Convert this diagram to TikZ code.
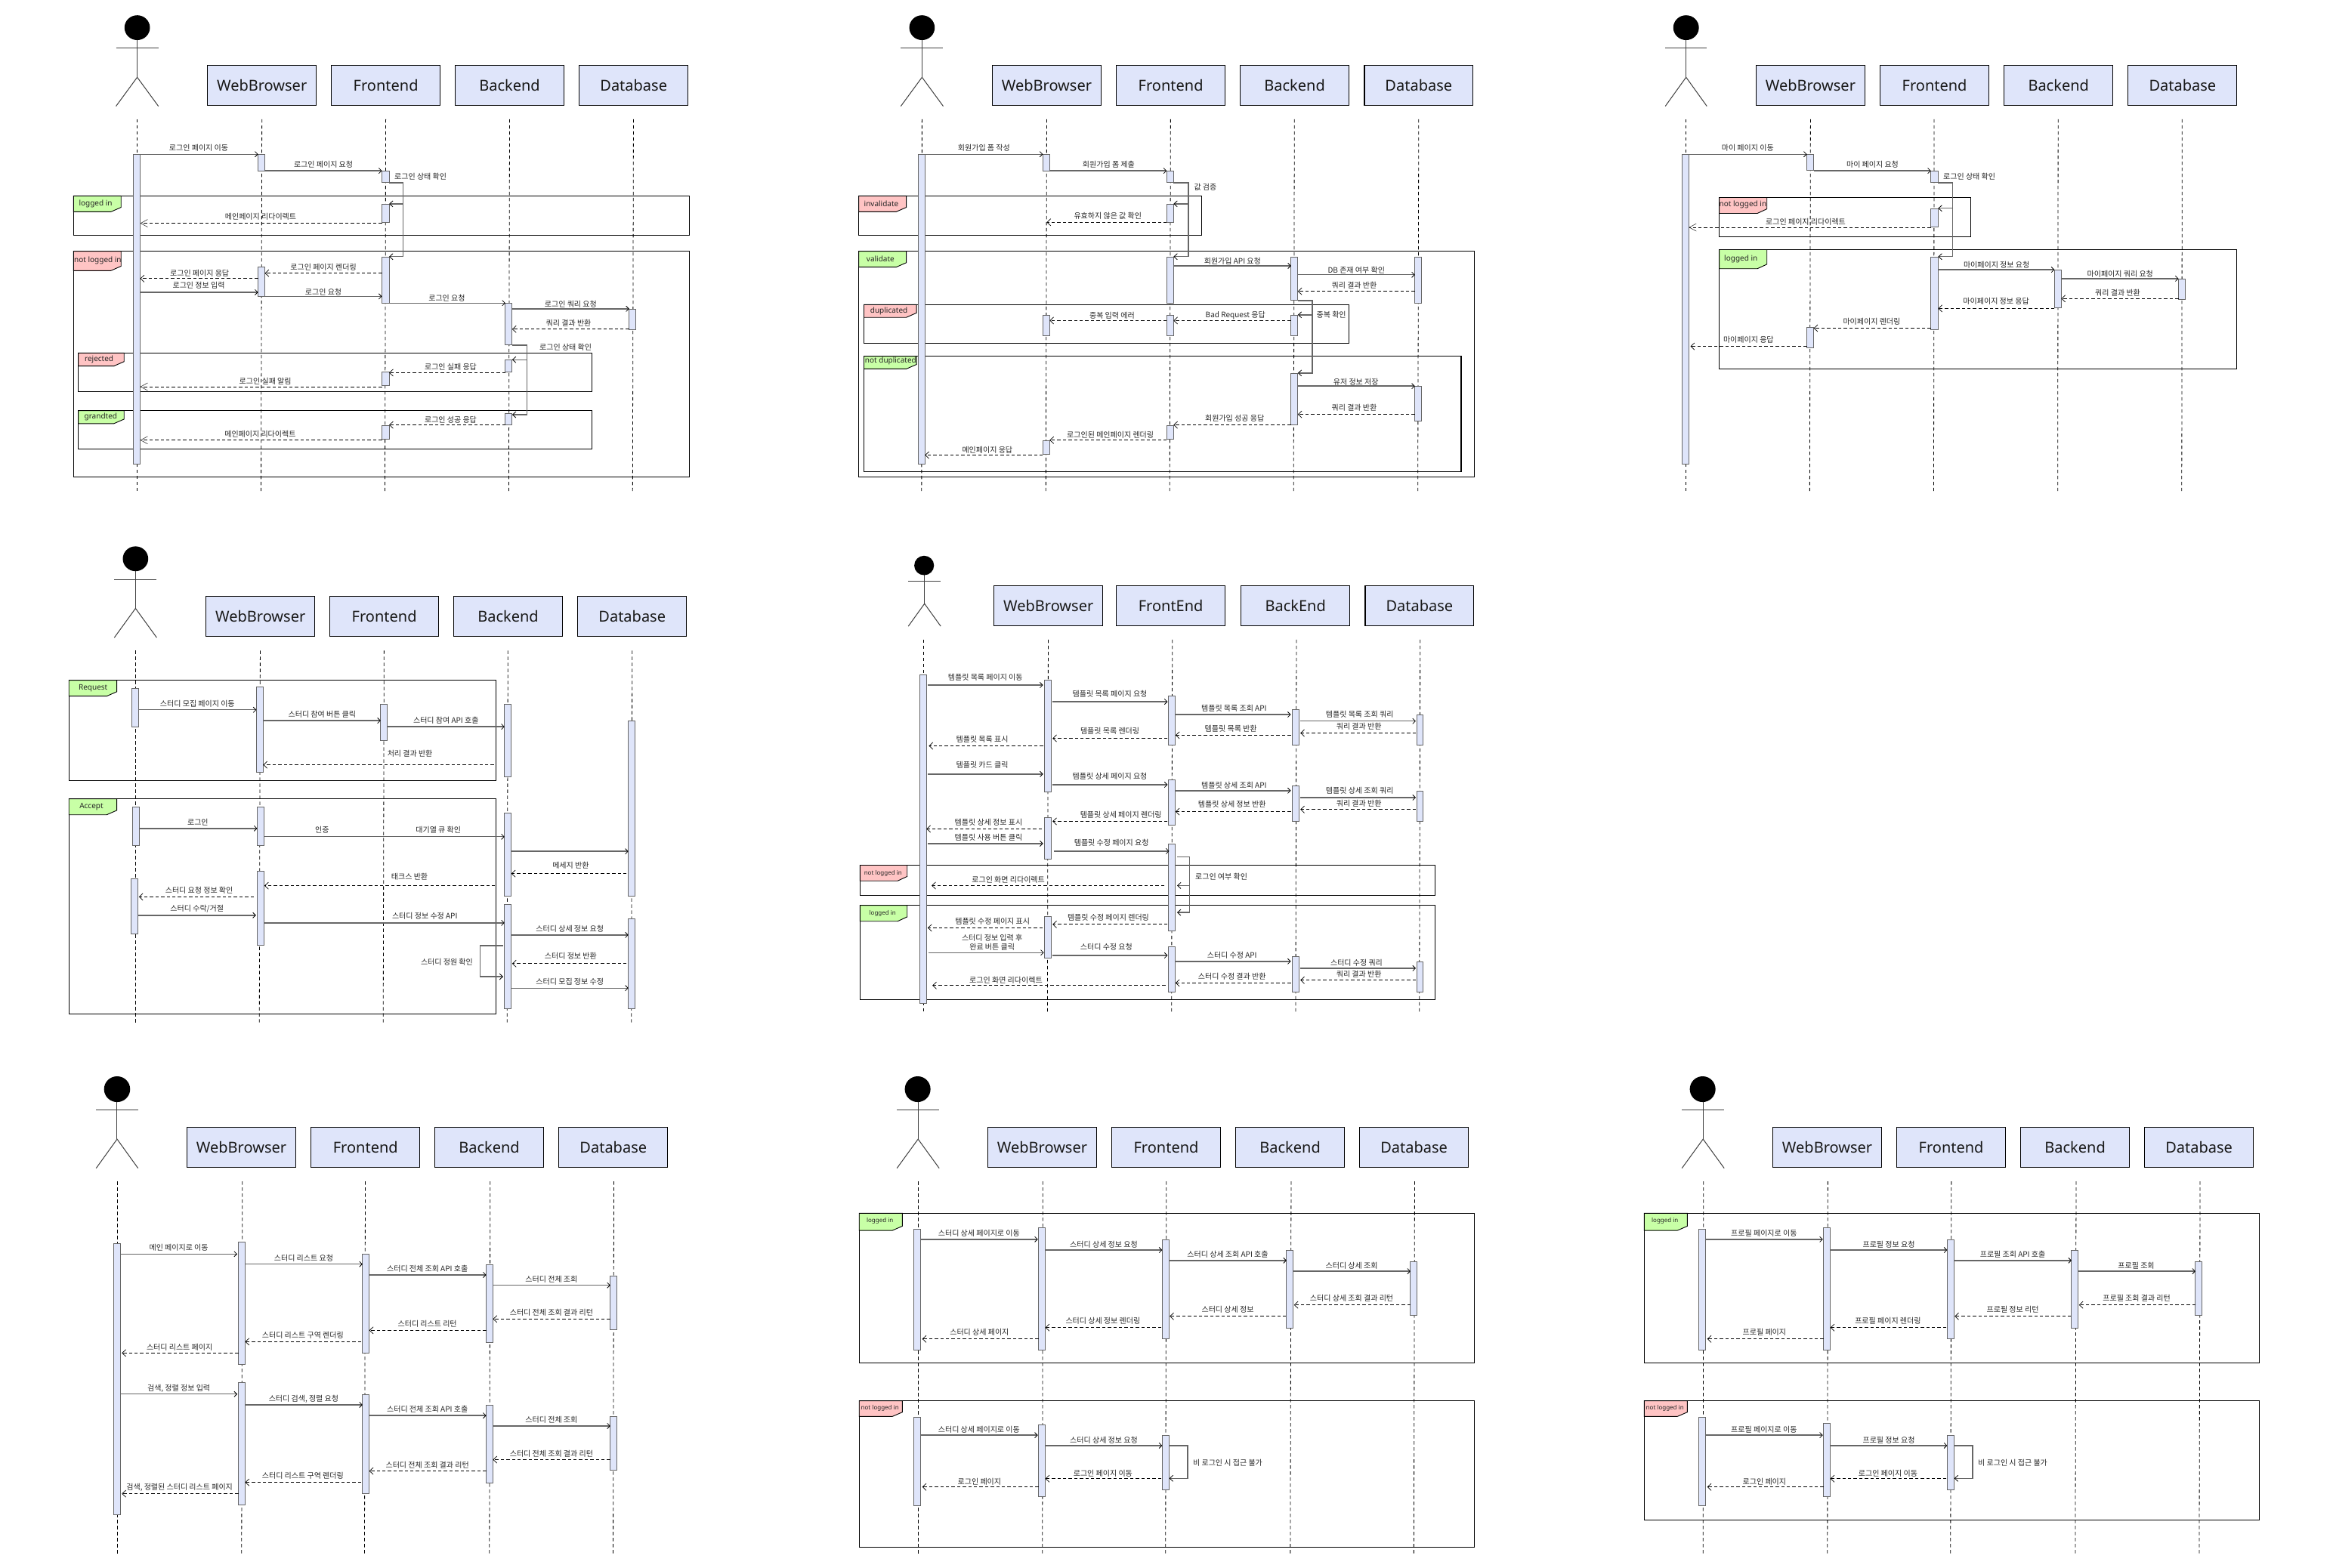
\documentclass[tikz,border=0pt]{standalone}
\usepackage{fontspec}
\setmainfont{Noto Sans}
\newfontfamily\krfont{Noto Sans CJK KR}
\usetikzlibrary{arrows.meta}
\definecolor{barfill}{HTML}{DFE5FA}
\definecolor{gtab}{HTML}{C8FFA6}
\definecolor{ptab}{HTML}{FFC4C4}
\definecolor{inkc}{HTML}{666666}
\tikzset{
 boxst/.style={draw=black,line width=0.55pt,fill=barfill},
 boxlbl/.style={font=\fontsize{10}{12}\selectfont,text=black!90,inner sep=0pt},
 lifest/.style={draw=black,line width=0.4pt,dash pattern=on 2.2pt off 1.8pt},
 barst/.style={draw=inkc,line width=0.45pt,fill=barfill},
 framest/.style={draw=black,line width=0.55pt},
 tabst/.style={draw=black,line width=0.45pt},
 actorst/.style={draw=black!75,line width=0.5pt},
 smsg/.style={draw=inkc,line width=0.7pt,-{Straight Barb[length=1.8pt,width=3.6pt,line width=0.4pt,black]}},
 dmsg/.style={draw=black,line width=0.45pt,dash pattern=on 2.2pt off 1.5pt,-{Straight Barb[length=2.4pt,width=4.6pt,line width=0.35pt,black]}},
 bmsg/.style={draw=black,line width=0.4pt,dash pattern=on 2.2pt off 1.5pt,-{Straight Barb[length=4.6pt,width=5pt,line width=0.3pt,black!80]}},
 lmsg/.style={draw=inkc,line width=0.7pt,-{Straight Barb[length=2.2pt,width=4pt,line width=0.4pt,black]}},
 msglbl/.style={font=\krfont\fontsize{5}{6.2}\selectfont,text=black!85,inner sep=0pt,align=center},
 frlbl/.style={font=\fontsize{5}{6}\selectfont,text=black!85,inner sep=0pt},
 frsmall/.style={font=\fontsize{4}{5}\selectfont,text=black!85,inner sep=0pt},
}
\newcount\qn
\newcommand\nextq{\global\advance\qn by 1 }
\newenvironment{zpanel}[4]{\begin{scope}[xshift=#1pt,yshift=-#2pt,x=#3pt,y=-#4pt]}{\end{scope}}
\newcommand\actor[9]{% cx headx heady rx ry armY halfarm hip foot
 \nextq
 \coordinate (ac\the\qn) at (#1,#3);
 \coordinate (hp\the\qn) at (#1,#8);
 \coordinate (al\the\qn) at (#1-#7,#6);
 \coordinate (ar\the\qn) at (#1+#7,#6);
 \coordinate (fl\the\qn) at (#1-#7,#9);
 \coordinate (fr\the\qn) at (#1+#7,#9);
 \draw[actorst] (ac\the\qn) -- (hp\the\qn);
 \draw[actorst] (al\the\qn) -- (ar\the\qn);
 \draw[actorst] (fl\the\qn) -- (hp\the\qn) -- (fr\the\qn);
 \fill[black] (#2,#3) ellipse [x radius=#4,y radius=#5];}
\newcommand\pbox[5]{\nextq\draw[boxst] (#1,#2) rectangle (#3,#4) node[midway,boxlbl] (b\the\qn) {#5};}
\newcommand\life[4]{\nextq\coordinate (lt\the\qn) at (#1,#3);\coordinate (lb\the\qn) at (#2,#4);\draw[lifest] (lt\the\qn) -- (lb\the\qn);}
\newcommand\abar[4]{\draw[barst] (#1,#2) rectangle (#3,#4);}
\newcommand\frm[7]{\draw[framest] (#1,#2) rectangle (#3,#4);
 \draw[tabst,fill=#7] (#1,#2) -- (#5,#2) -- (#5,#6-14) -- (#5-24,#6) -- (#1,#6) -- cycle;}
\newcommand\lbl[3]{\nextq\node[msglbl] (t\the\qn) at (#1,#2) {#3};}
\newcommand\frl[3]{\nextq\node[frlbl] (f\the\qn) at (#1,#2) {#3};}
\newcommand\frs[3]{\nextq\node[frsmall] (f\the\qn) at (#1,#2) {#3};}
\newcommand\genmsg[7]{\nextq\coordinate (a\the\qn) at (#2,#4);\coordinate (e\the\qn) at (#3,#4);
 \draw[#1] (a\the\qn) -- (e\the\qn);\node[msglbl] (t\the\qn) at (#5,#6) {#7};}
\newcommand\msgs[6]{\genmsg{smsg}{#1}{#2}{#3}{#4}{#5}{#6}}
\newcommand\msgd[6]{\genmsg{dmsg}{#1}{#2}{#3}{#4}{#5}{#6}}
\newcommand\msgb[6]{\genmsg{bmsg}{#1}{#2}{#3}{#4}{#5}{#6}}
\newcommand\msgn[3]{\nextq\coordinate (a\the\qn) at (#1,#3);\coordinate (e\the\qn) at (#2,#3);\draw[smsg] (a\the\qn) -- (e\the\qn);}
\newcommand\selfm[4]{\nextq\coordinate (a\the\qn) at (#1,#2);\coordinate (m\the\qn) at (#3,#2);\coordinate (n\the\qn) at (#3,#4);\coordinate (e\the\qn) at (#1,#4);
 \draw[lmsg] (a\the\qn) -- (m\the\qn) -- (n\the\qn) -- (e\the\qn);}
\newcommand\branch[3]{\nextq\coordinate (a\the\qn) at (#1,#3);\coordinate (e\the\qn) at (#2,#3);\draw[lmsg] (a\the\qn) -- (e\the\qn);}
\begin{document}
\begin{tikzpicture}[x=1pt,y=1pt]
\useasboundingbox (0,0) rectangle (1544,-1038);
\fill[white] (0,0) rectangle (1544,-1038);
% ---- panel 1
\begin{zpanel}{40}{0}{0.28070}{0.21052}
\life{181}{181}{375}{1544}\life{475}{473}{375}{1544}\life{767}{765}{375}{1544}\life{1059}{1057}{375}{1544}\life{1351}{1349}{375}{1544}
\actor{181}{181}{87}{30}{39}{152}{50}{243}{334}
\pbox{347}{205}{603}{331}{WebBrowser}\pbox{639}{205}{895}{331}{Frontend}\pbox{931}{205}{1187}{331}{Backend}\pbox{1223}{205}{1480}{331}{Database}
\frm{31}{616}{1483}{740}{143}{666}{gtab}\frl{83}{641}{logged in}
\frm{31}{790}{1483}{1500}{143}{851}{ptab}\frl{88}{820}{not logged in}
\frm{42}{1110}{1253}{1232}{150}{1151}{ptab}\frl{91}{1130}{rejected}
\frm{42}{1291}{1253}{1412}{150}{1332}{gtab}\frl{95}{1311}{grandted}
\abar{172}{486}{188}{1460}\abar{466}{486}{482}{537}\abar{758}{538}{775}{574}\abar{758}{642}{775}{699}\abar{758}{809}{775}{954}\abar{466}{840}{482}{932}
\abar{1049}{954}{1065}{1084}\abar{1341}{972}{1357}{1037}\abar{1049}{1132}{1065}{1170}\abar{758}{1170}{775}{1213}\abar{1049}{1301}{1065}{1336}\abar{758}{1339}{775}{1382}
\msgs{181}{466}{485}{326}{466}{로그인 페이지 이동}
\msgs{482}{758}{537}{620}{518}{로그인 페이지 요청}
\selfm{775}{575}{808}{807}\branch{808}{775}{641}\lbl{849}{556}{로그인 상태 확인}
\msgb{758}{188}{702}{472}{680}{메인페이지 리다이렉트}
\msgd{758}{482}{859}{620}{839}{로그인 페이지 렌더링}
\msgd{466}{188}{876}{328}{858}{로그인 페이지 응답}
\msgs{188}{466}{919}{326}{898}{로그인 정보 입력}
\msgs{482}{758}{932}{620}{919}{로그인 요청}
\msgs{775}{1049}{953}{911}{938}{로그인 요청}
\msgs{1065}{1341}{971}{1203}{957}{로그인 쿼리 요청}
\msgd{1341}{1065}{1035}{1198}{1015}{쿼리 결과 반환}
\selfm{1065}{1085}{1100}{1304}\branch{1100}{1065}{1131}\lbl{1191}{1091}{로그인 상태 확인}
\msgd{1049}{775}{1172}{920}{1154}{로그인 실패 응답}
\msgb{758}{188}{1216}{483}{1198}{로그인 실패 알림}
\msgd{1049}{775}{1336}{920}{1319}{로그인 성공 응답}
\msgb{758}{188}{1384}{471}{1364}{메인페이지 리다이렉트}
\end{zpanel}
% ---- panel 2
\begin{zpanel}{565}{0}{0.28070}{0.21052}
\life{161}{160}{375}{1544}\life{455}{453}{375}{1544}\life{747}{745}{375}{1544}\life{1039}{1037}{375}{1544}\life{1332}{1330}{375}{1544}
\actor{161}{161}{87}{30}{39}{152}{50}{243}{334}
\pbox{327}{205}{583}{331}{WebBrowser}\pbox{619}{205}{876}{331}{Frontend}\pbox{911}{205}{1168}{331}{Backend}\pbox{1204}{205}{1460}{331}{Database}
\frm{12}{616}{820}{740}{124}{666}{ptab}\frl{65}{641}{invalidate}
\frm{12}{790}{1464}{1500}{124}{840}{gtab}\frl{63}{814}{validate}
\frm{24}{958}{1168}{1080}{148}{998}{ptab}\frl{83}{978}{duplicated}
\frm{24}{1120}{1432}{1483}{148}{1160}{gtab}\frl{87}{1135}{not duplicated}
\abar{152}{486}{168}{1460}\abar{446}{486}{462}{537}\abar{738}{538}{754}{574}\abar{738}{642}{754}{699}\abar{738}{809}{754}{954}\abar{1031}{809}{1047}{945}\abar{1323}{809}{1339}{954}
\abar{446}{992}{462}{1056}\abar{738}{992}{754}{1056}\abar{1031}{992}{1047}{1056}\abar{1031}{1175}{1047}{1336}\abar{1323}{1215}{1339}{1325}\abar{738}{1339}{754}{1382}\abar{446}{1386}{462}{1429}
\msgs{161}{446}{485}{307}{466}{회원가입 폼 작성}
\msgs{462}{738}{537}{601}{518}{회원가입 폼 제출}
\selfm{754}{575}{789}{807}\branch{789}{754}{641}\lbl{829}{588}{값 검증}
\msgd{738}{455}{699}{599}{678}{유효하지 않은 값 확인}
\msgs{754}{1031}{836}{893}{822}{회원가입 API 요청}
\msgs{1047}{1323}{864}{1185}{850}{DB 존재 여부 확인}
\msgd{1323}{1047}{916}{1180}{896}{쿼리 결과 반환}
\selfm{1047}{945}{1081}{1173}\branch{1081}{1047}{990}\lbl{1126}{989}{중복 확인}
\msgd{1031}{754}{1008}{900}{991}{Bad Request 응답}
\msgd{738}{462}{1008}{609}{991}{중복 입력 에러}
\msgs{1047}{1323}{1214}{1184}{1200}{유저 정보 저장}
\msgd{1323}{1047}{1303}{1180}{1283}{쿼리 결과 반환}
\msgd{1031}{754}{1336}{898}{1316}{회원가입 성공 응답}
\msgd{738}{462}{1384}{605}{1367}{로그인된 메인페이지 렌더링}
\msgd{446}{168}{1431}{315}{1414}{메인페이지 응답}
\end{zpanel}
% ---- panel 3
\begin{zpanel}{1105}{0}{0.26475}{0.21052}
\life{41}{41}{375}{1544}\life{352}{350}{375}{1544}\life{661}{660}{375}{1544}\life{971}{970}{375}{1544}\life{1281}{1280}{375}{1544}
\actor{41}{41}{87}{32}{39}{152}{52}{243}{334}
\pbox{216}{205}{488}{331}{WebBrowser}\pbox{526}{205}{798}{331}{Frontend}\pbox{836}{205}{1108}{331}{Backend}\pbox{1146}{205}{1418}{331}{Database}
\frm{124}{621}{753}{745}{243}{671}{ptab}\frl{183}{643}{not logged in}
\frm{124}{785}{1418}{1160}{243}{845}{gtab}\frl{178}{815}{logged in}
\abar{31}{486}{48}{1460}\abar{343}{486}{360}{536}\abar{653}{538}{671}{574}\abar{653}{657}{671}{714}\abar{653}{809}{671}{1037}\abar{962}{849}{979}{968}\abar{1272}{878}{1289}{942}\abar{343}{1030}{360}{1094}
\msgs{41}{343}{485}{195}{466}{마이 페이지 이동}
\msgs{360}{653}{537}{507}{518}{마이 페이지 요청}
\selfm{671}{575}{707}{807}\branch{707}{671}{655}\lbl{749}{556}{로그인 상태 확인}
\msgb{653}{48}{715}{340}{698}{로그인 페이지 리다이렉트}
\msgs{671}{962}{848}{817}{834}{마이페이지 정보 요청}
\msgs{979}{1272}{876}{1126}{862}{마이페이지 쿼리 요청}
\msgd{1272}{979}{939}{1120}{920}{쿼리 결과 반환}
\msgd{962}{671}{970}{816}{948}{마이페이지 정보 응답}
\msgd{653}{360}{1032}{505}{1010}{마이페이지 렌더링}
\msgd{343}{52}{1089}{197}{1067}{마이페이지 응답}
\end{zpanel}
% ---- panel 4
\begin{zpanel}{40}{360}{0.28070}{0.21052}
\life{177}{177}{336}{1505}\life{471}{469}{336}{1505}\life{763}{761}{336}{1505}\life{1055}{1053}{336}{1505}\life{1348}{1346}{336}{1505}
\actor{177}{177}{47}{30}{39}{112}{50}{203}{295}
\pbox{343}{165}{600}{291}{WebBrowser}\pbox{635}{165}{892}{291}{Frontend}\pbox{927}{165}{1184}{291}{Backend}\pbox{1220}{165}{1476}{291}{Database}
\frm{20}{429}{1027}{745}{133}{479}{gtab}\frl{77}{455}{Request}
\frm{20}{802}{1027}{1479}{133}{852}{gtab}\frl{73}{826}{Accept}
\abar{168}{455}{184}{576}\abar{462}{450}{478}{719}\abar{755}{505}{771}{619}\abar{1047}{505}{1063}{733}\abar{1339}{557}{1355}{1108}
\abar{170}{828}{186}{949}\abar{464}{828}{480}{949}\abar{1047}{847}{1063}{1108}\abar{464}{1030}{480}{1263}\abar{167}{1053}{183}{1227}\abar{1047}{1134}{1063}{1462}\abar{1339}{1179}{1355}{1462}
\msgs{184}{462}{522}{323}{502}{스터디 모집 페이지 이동}
\msgs{478}{755}{556}{617}{535}{스터디 참여 버튼 클릭}
\msgs{771}{1047}{575}{909}{554}{스터디 참여 API 호출}
\msgd{1022}{478}{695}{824}{659}{처리 결과 반환}
\msgs{186}{464}{895}{324}{875}{로그인}
\msgs{480}{1047}{921}{617}{899}{인증}\lbl{891}{899}{대기열 큐 확인}
\msgn{1063}{1339}{967}
\msgd{1335}{1063}{1037}{1203}{1012}{메세지 반환}
\msgd{1025}{481}{1075}{823}{1046}{태크스 반환}
\msgd{456}{185}{1110}{327}{1090}{스터디 요청 정보 확인}
\msgs{183}{461}{1168}{322}{1148}{스터디 수락/거절}
\msgs{480}{1047}{1192}{859}{1170}{스터디 정보 수정 API}
\msgs{1063}{1339}{1230}{1201}{1210}{스터디 상세 정보 요청}
\msgd{1335}{1065}{1320}{1203}{1295}{스터디 정보 반환}
\selfm{1044}{1263}{989}{1361}\lbl{911}{1314}{스터디 정원 확인}
\msgs{1063}{1339}{1397}{1201}{1376}{스터디 모집 정보 수정}
\end{zpanel}
% ---- panel 5
\begin{zpanel}{570}{365}{0.26156}{0.20733}
\life{158}{158}{282}{1470}\life{473}{471}{282}{1470}\life{787}{785}{282}{1470}\life{1101}{1099}{282}{1470}\life{1414}{1412}{282}{1470}
\actor{160}{159}{45}{25}{31}{96}{41}{167}{239}
\pbox{336}{110}{611}{238}{WebBrowser}\pbox{645}{110}{921}{238}{FrontEnd}\pbox{961}{110}{1236}{238}{BackEnd}\pbox{1275}{110}{1550}{238}{Database}
\frm{-3}{1002}{1452}{1099}{116}{1052}{ptab}\frs{55}{1029}{not logged in}
\frm{-3}{1130}{1452}{1431}{116}{1181}{gtab}\frs{54}{1157}{logged in}
\abar{148}{394}{165}{1442}\abar{464}{411}{481}{769}\abar{777}{462}{794}{619}\abar{1091}{505}{1108}{619}\abar{1405}{522}{1422}{619}\abar{777}{730}{794}{873}\abar{1091}{749}{1108}{862}\abar{1405}{766}{1422}{862}
\abar{464}{850}{481}{983}\abar{777}{935}{794}{1212}\abar{464}{1166}{481}{1299}\abar{777}{1263}{794}{1408}\abar{1091}{1294}{1108}{1408}\abar{1405}{1311}{1422}{1408}
\msgs{168}{460}{427}{314}{401}{템플릿 목록 페이지 이동}
\msgs{484}{775}{480}{629}{454}{템플릿 목록 페이지 요청}
\msgs{795}{1087}{521}{943}{500}{템플릿 목록 조회 API}
\msgs{1111}{1403}{542}{1261}{521}{템플릿 목록 조회 쿼리}
\msgd{1403}{1111}{580}{1259}{560}{쿼리 결과 반환}
\msgd{1087}{795}{587}{935}{565}{템플릿 목록 반환}
\msgd{775}{484}{597}{629}{574}{템플릿 목록 렌더링}
\msgd{460}{171}{621}{306}{601}{템플릿 목록 표시}
\msgs{168}{460}{711}{306}{683}{템플릿 카드 클릭}
\msgs{484}{775}{745}{629}{719}{템플릿 상세 페이지 요청}
\msgs{795}{1087}{764}{943}{748}{템플릿 상세 조회 API}
\msgs{1111}{1403}{786}{1261}{765}{템플릿 상세 조회 쿼리}
\msgd{1403}{1111}{824}{1259}{806}{쿼리 결과 반환}
\msgd{1087}{795}{831}{938}{808}{템플릿 상세 정보 반환}
\msgd{775}{484}{862}{657}{840}{템플릿 상세 페이지 렌더링}
\msgd{457}{165}{886}{322}{866}{템플릿 상세 정보 표시}
\msgs{168}{460}{933}{322}{914}{템플릿 사용 버튼 클릭}
\msgs{488}{779}{957}{633}{931}{템플릿 수정 페이지 요청}
\selfm{799}{976}{830}{1153}\branch{830}{799}{1067}\lbl{911}{1038}{로그인 여부 확인}
\msgd{767}{178}{1067}{372}{1049}{로그인 화면 리다이렉트}
\msgd{775}{484}{1191}{625}{1168}{템플릿 수정 페이지 렌더링}
\msgd{459}{168}{1202}{332}{1182}{템플릿 수정 페이지 표시}
\msgs{170}{462}{1281}{331}{1248}{스터디 정보 입력 후\\완료 버튼 클릭}
\msgs{484}{775}{1290}{620}{1263}{스터디 수정 요청}
\msgs{795}{1087}{1309}{938}{1289}{스터디 수정 API}
\msgs{1111}{1403}{1331}{1253}{1313}{스터디 수정 쿼리}
\msgd{1403}{1111}{1369}{1259}{1351}{쿼리 결과 반환}
\msgd{1087}{795}{1378}{938}{1356}{스터디 수정 결과 반환}
\msgd{770}{180}{1386}{366}{1368}{로그인 화면 리다이렉트}
\end{zpanel}
% ---- panel 6
\begin{zpanel}{55}{720}{0.26156}{0.20287}
\life{87}{87}{306}{1520}\life{403}{401}{306}{1520}\life{714}{712}{306}{1520}\life{1030}{1028}{306}{1520}\life{1343}{1341}{306}{1520}
\actor{86}{86}{5}{33}{42}{73}{53}{168}{263}
\pbox{263}{129}{538}{260}{WebBrowser}\pbox{577}{129}{852}{260}{Frontend}\pbox{890}{129}{1165}{260}{Backend}\pbox{1204}{129}{1479}{260}{Database}
\abar{77}{509}{95}{1394}\abar{393}{504}{410}{904}\abar{707}{543}{724}{867}\abar{1020}{578}{1037}{832}\abar{1334}{615}{1351}{790}
\abar{393}{963}{410}{1362}\abar{707}{1002}{724}{1325}\abar{1020}{1036}{1037}{1291}\abar{1334}{1073}{1351}{1249}
\msgs{95}{390}{543}{242}{523}{메인 페이지로 이동}
\msgs{410}{707}{576}{558}{557}{스터디 리스트 요청}
\msgs{724}{1020}{611}{871}{592}{스터디 전체 조회 API 호출}
\msgs{1037}{1334}{645}{1185}{626}{스터디 전체 조회}
\msgd{1334}{1037}{755}{1185}{735}{스터디 전체 조회 결과 리턴}
\msgd{1020}{724}{792}{871}{771}{스터디 리스트 리턴}
\msgd{704}{410}{829}{556}{808}{스터디 리스트 구역 렌더링}
\msgd{393}{98}{866}{244}{846}{스터디 리스트 페이지}
\msgs{95}{390}{1000}{242}{982}{검색, 정렬 정보 입력}
\msgs{410}{707}{1035}{558}{1016}{스터디 검색, 정렬 요청}
\msgs{724}{1020}{1070}{871}{1050}{스터디 전체 조회 API 호출}
\msgs{1037}{1334}{1104}{1185}{1085}{스터디 전체 조회}
\msgd{1334}{1037}{1214}{1185}{1194}{스터디 전체 조회 결과 리턴}
\msgd{1020}{724}{1251}{871}{1231}{스터디 전체 조회 결과 리턴}
\msgd{704}{410}{1288}{556}{1267}{스터디 리스트 구역 렌더링}
\msgd{393}{98}{1325}{244}{1305}{검색, 정렬된 스터디 리스트 페이지}
\end{zpanel}
% ---- panel 7
\begin{zpanel}{570}{720}{0.27432}{0.20287}
\life{138}{138}{306}{1520}\life{438}{437}{306}{1520}\life{736}{734}{306}{1520}\life{1037}{1035}{306}{1520}\life{1335}{1333}{306}{1520}
\actor{137}{136}{5}{31}{42}{73}{51}{168}{263}
\pbox{305}{129}{568}{260}{WebBrowser}\pbox{604}{129}{867}{260}{Frontend}\pbox{903}{129}{1166}{260}{Backend}\pbox{1202}{129}{1465}{260}{Database}
\frm{-5}{410}{1479}{898}{99}{466}{gtab}\frs{45}{435}{logged in}
\frm{-5}{1022}{1479}{1500}{99}{1073}{ptab}\frs{45}{1046}{not logged in}
\abar{127}{462}{143}{857}\abar{428}{457}{444}{857}\abar{726}{497}{743}{820}\abar{1025}{531}{1042}{785}\abar{1324}{568}{1341}{744}
\abar{127}{1076}{143}{1365}\abar{428}{1101}{444}{1335}\abar{726}{1135}{743}{1313}
\msgs{143}{426}{495}{284}{476}{스터디 상세 페이지로 이동}
\msgs{444}{726}{530}{585}{511}{스터디 상세 정보 요청}
\msgs{743}{1026}{564}{884}{545}{스터디 상세 조회 API 호출}
\msgs{1042}{1325}{599}{1183}{580}{스터디 상세 조회}
\msgd{1325}{1044}{709}{1183}{688}{스터디 상세 조회 결과 리턴}
\msgd{1025}{744}{746}{884}{725}{스터디 상세 정보}
\msgd{724}{444}{783}{583}{762}{스터디 상세 정보 렌더링}
\msgd{428}{147}{820}{285}{799}{스터디 상세 페이지}
\msgs{143}{426}{1134}{284}{1115}{스터디 상세 페이지로 이동}
\msgs{444}{726}{1168}{585}{1150}{스터디 상세 정보 요청}
\selfm{743}{1168}{787}{1275}\lbl{884}{1224}{비 로그인 시 접근 불가}
\msgd{724}{444}{1276}{583}{1260}{로그인 페이지 이동}
\msgd{428}{147}{1303}{285}{1287}{로그인 페이지}
\end{zpanel}
% ---- panel 8
\begin{zpanel}{1095}{720}{0.27432}{0.20287}
\life{118}{117}{306}{1520}\life{418}{417}{306}{1520}\life{716}{714}{306}{1520}\life{1017}{1015}{306}{1520}\life{1316}{1314}{306}{1520}
\actor{117}{116}{5}{31}{42}{73}{51}{168}{263}
\pbox{285}{129}{548}{260}{WebBrowser}\pbox{584}{129}{847}{260}{Frontend}\pbox{883}{129}{1146}{260}{Backend}\pbox{1182}{129}{1445}{260}{Database}
\frm{-25}{410}{1459}{898}{79}{466}{gtab}\frs{25}{435}{logged in}
\frm{-25}{1022}{1459}{1412}{79}{1073}{ptab}\frs{25}{1046}{not logged in}
\abar{107}{462}{123}{857}\abar{408}{457}{424}{857}\abar{706}{497}{723}{820}\abar{1005}{531}{1022}{785}\abar{1304}{568}{1321}{744}
\abar{107}{1076}{123}{1365}\abar{408}{1096}{424}{1335}\abar{706}{1135}{723}{1313}
\msgs{123}{406}{495}{264}{476}{프로필 페이지로 이동}
\msgs{424}{706}{530}{565}{511}{프로필 정보 요청}
\msgs{723}{1006}{564}{864}{545}{프로필 조회 API 호출}
\msgs{1022}{1305}{599}{1162}{580}{프로필 조회}
\msgd{1305}{1024}{709}{1163}{688}{프로필 조회 결과 리턴}
\msgd{1005}{724}{746}{864}{725}{프로필 정보 리턴}
\msgd{704}{424}{783}{563}{762}{프로필 페이지 렌더링}
\msgd{408}{127}{820}{265}{799}{프로필 페이지}
\msgs{123}{406}{1134}{264}{1115}{프로필 페이지로 이동}
\msgs{424}{706}{1168}{565}{1150}{프로필 정보 요청}
\selfm{723}{1168}{767}{1275}\lbl{864}{1224}{비 로그인 시 접근 불가}
\msgd{704}{424}{1276}{563}{1260}{로그인 페이지 이동}
\msgd{408}{127}{1303}{265}{1287}{로그인 페이지}
\end{zpanel}
\end{tikzpicture}
\end{document}
